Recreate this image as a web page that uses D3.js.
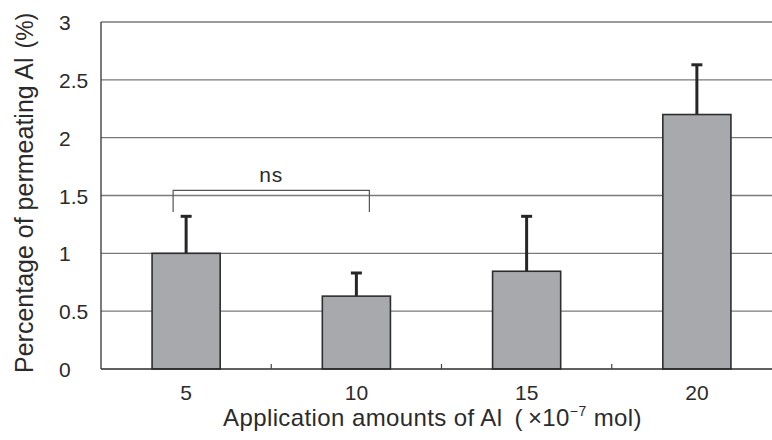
<!DOCTYPE html>
<html>
<head>
<meta charset="utf-8">
<script src="https://cdn.jsdelivr.net/npm/d3@7"></script>
<style>
  html, body { margin: 0; padding: 0; background: #fff; }
  svg { display: block; }
  text { font-family: "Liberation Sans", Arial, sans-serif; fill: #2b2b2b; }
</style>
</head>
<body>
<svg id="chart" width="772" height="440"></svg>
<script>
// ---- data ----
const categories = ["5", "10", "15", "20"];
const values = [1.00, 0.63, 0.845, 2.20];
const errors = [0.32, 0.20, 0.475, 0.43];
const yTicks = [0, 0.5, 1, 1.5, 2, 2.5, 3];
const yTickLabels = ["0", "0.5", "1", "1.5", "2", "2.5", "3"];
const sigPair = ["5", "10"];
const sigLabel = "ns";
const sigLevel = 1.545;
const sigLegEnd = 1.357;

(function () {
// ---- layout ----
const svg = d3.select("#chart");
const mLeft = 101, mTop = 22, mBottom = 369, mRight = 782;

const x = d3.scaleBand().domain(categories).range([mLeft, mRight]).padding(0);
const y = d3.scaleLinear().domain([0, 3]).range([mBottom, mTop]);
const barW = x.bandwidth() * 0.4;

// gridlines
svg.append("g").selectAll("line")
  .data(yTicks.filter(d => d > 0))
  .join("line")
  .attr("x1", mLeft).attr("x2", mRight)
  .attr("y1", d => y(d)).attr("y2", d => y(d))
  .attr("stroke", "#7a7a7a").attr("stroke-width", 1.3);

// left border
svg.append("line")
  .attr("x1", mLeft).attr("x2", mLeft)
  .attr("y1", y(3)).attr("y2", y(0))
  .attr("stroke", "#333").attr("stroke-width", 1.3);

// error bars (behind bars)
const eg = svg.append("g");
categories.forEach((c, i) => {
  const cx = x(c) + x.bandwidth() / 2;
  eg.append("line")
    .attr("x1", cx).attr("x2", cx)
    .attr("y1", y(values[i])).attr("y2", y(values[i] + errors[i]))
    .attr("stroke", "#262626").attr("stroke-width", 3);
  eg.append("line")
    .attr("x1", cx - 5.5).attr("x2", cx + 5.5)
    .attr("y1", y(values[i] + errors[i])).attr("y2", y(values[i] + errors[i]))
    .attr("stroke", "#262626").attr("stroke-width", 3);
});

// bars
svg.append("g").selectAll("rect")
  .data(categories)
  .join("rect")
  .attr("x", c => x(c) + (x.bandwidth() - barW) / 2)
  .attr("width", barW)
  .attr("y", (c, i) => y(values[i]))
  .attr("height", (c, i) => y(0) - y(values[i]))
  .attr("fill", "#a8a9ac")
  .attr("stroke", "#2e2e2e")
  .attr("stroke-width", 1.6);

// x axis baseline
const xAxis = d3.axisBottom(x).tickSize(0).tickFormat(d => d);
const xg = svg.append("g").attr("transform", `translate(0,${mBottom})`).call(xAxis);
xg.select(".domain").attr("stroke", "#2b2b2b").attr("stroke-width", 1.6)
  .attr("d", `M${mLeft},0H${mRight}`);
xg.selectAll(".tick text")
  .attr("dy", 0).attr("y", 31)
  .style("font-size", "21px")
  .style("font-family", "\"Liberation Sans\", Arial, sans-serif")
  .attr("fill", "#2b2b2b");
svg.append("g").selectAll("line")
  .data(categories.slice(1))
  .join("line")
  .attr("x1", c => x(c)).attr("x2", c => x(c))
  .attr("y1", mBottom).attr("y2", mBottom - 5)
  .attr("stroke", "#444").attr("stroke-width", 1.2);

// y tick labels (left aligned)
svg.append("g").selectAll("text")
  .data(yTicks)
  .join("text")
  .attr("x", 59)
  .attr("y", d => y(d) + 8)
  .style("font-size", "21px")
  .text((d, i) => yTickLabels[i]);

// significance bracket
const x1 = x(sigPair[0]) + x.bandwidth() / 2 - 13;
const x2 = x(sigPair[1]) + x.bandwidth() / 2 + 13;
svg.append("path")
  .attr("d", `M${x1},${y(sigLegEnd)}V${y(sigLevel)}H${x2}V${y(sigLegEnd)}`)
  .attr("fill", "none").attr("stroke", "#555").attr("stroke-width", 1.2);
svg.append("text")
  .attr("x", (x1 + x2) / 2).attr("y", y(sigLevel) - 8)
  .attr("text-anchor", "middle")
  .style("font-size", "21px")
  .style("letter-spacing", "1px")
  .text(sigLabel);

// axis titles
const xt = svg.append("text")
  .attr("x", 223).attr("y", 426)
  .attr("text-anchor", "start")
  .style("font-size", "24px")
  .style("letter-spacing", "0.4px");
xt.append("tspan").text("Application amounts of Al");
xt.append("tspan").attr("dx", 12).text("(");
xt.append("tspan").attr("dx", 5).text("\u00D710");
xt.append("tspan").attr("dy", -10).style("font-size", "14px").text("\u22127");
xt.append("tspan").attr("dy", 10).text(" mol)");

const yt = svg.append("text")
  .attr("transform", "translate(33,373) rotate(-90)")
  .attr("text-anchor", "start")
  .style("font-size", "25px");
yt.append("tspan").text("Percentage of permeating Al");
yt.append("tspan").attr("dx", 9).style("font-size", "23px").text("(%)");
})();
</script>
</body>
</html>
